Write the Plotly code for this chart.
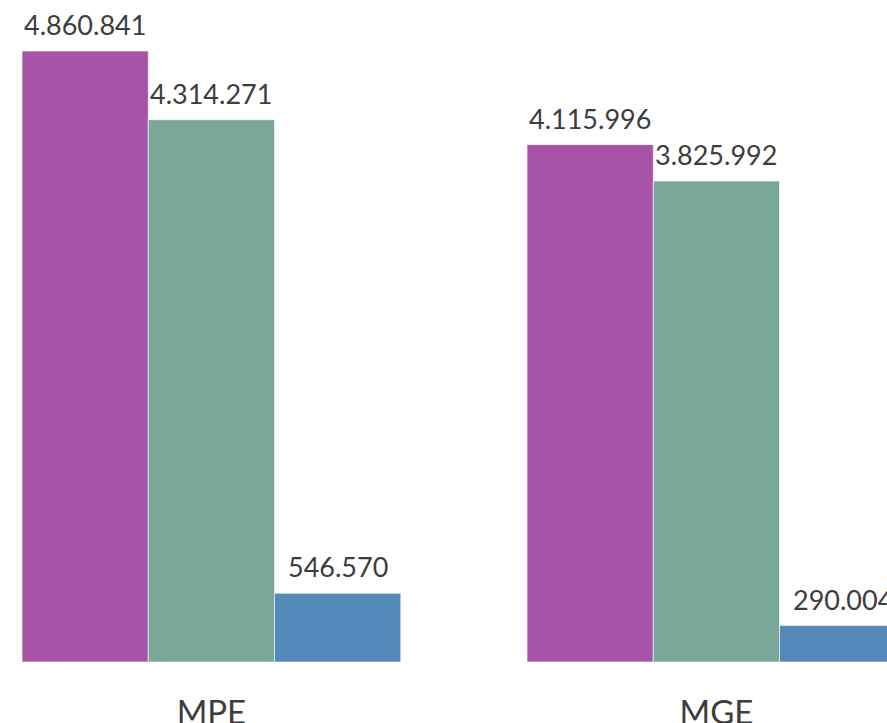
import plotly.graph_objects as go

categories = ["MPE", "MGE"]
series_names = ["Serie 1", "Serie 2", "Serie 3"]
series_values = [
    [4860841, 4115996],
    [4314271, 3825992],
    [546570, 290004],
]
series_colors = ["#A653A8", "#7BA69A", "#5389B8"]

def fmt(v):
    return f"{v:,}".replace(",", ".")

W, H = 887, 723
x_range = [-0.4186, 1.3378]
y_range = [0, 5.2666e6]
bargap = 0.25
plot_w = W
px_per_unit = plot_w / (x_range[1] - x_range[0])
bar_w_units = (1 - bargap) / len(series_values)
bar_w_px = bar_w_units * px_per_unit

fig = go.Figure()
for name, vals, col in zip(series_names, series_values, series_colors):
    fig.add_trace(go.Bar(
        x=categories, y=vals, name=name,
        marker=dict(color=col, line=dict(color="rgba(255,255,255,0.6)", width=1)),
        hoverinfo="skip",
    ))

font_family = "Lato, 'Open Sans', sans-serif"
n = len(series_values)
for i, vals in enumerate(series_values):
    for cat, v in zip(categories, vals):
        fig.add_annotation(
            x=cat, y=v, xref="x", yref="y",
            text=fmt(v), showarrow=False,
            xanchor="center", yanchor="bottom",
            xshift=(i - (n - 1) / 2) * bar_w_px,
            yshift=8,
            font=dict(family=font_family, size=27, color="#3d3d3d"),
        )

fig.update_layout(
    width=W, height=H,
    barmode="group", bargap=bargap, bargroupgap=0,
    showlegend=False,
    plot_bgcolor="white", paper_bgcolor="white",
    margin=dict(l=0, r=0, t=0, b=H - 662, autoexpand=False),
    xaxis=dict(
        range=x_range, showgrid=False, zeroline=False, showline=False,
        automargin=False,
        ticks="outside", ticklen=21, tickcolor="rgba(0,0,0,0)",
        tickfont=dict(family=font_family, size=33, color="#3d3d3d"),
        fixedrange=True,
    ),
    yaxis=dict(range=y_range, visible=False, showgrid=False, zeroline=False,
               automargin=False),
)

fig.write_html(
    "out.html",
    config={"displayModeBar": False},
    post_script="document.body.style.margin='0';document.body.style.overflow='hidden';",
)
